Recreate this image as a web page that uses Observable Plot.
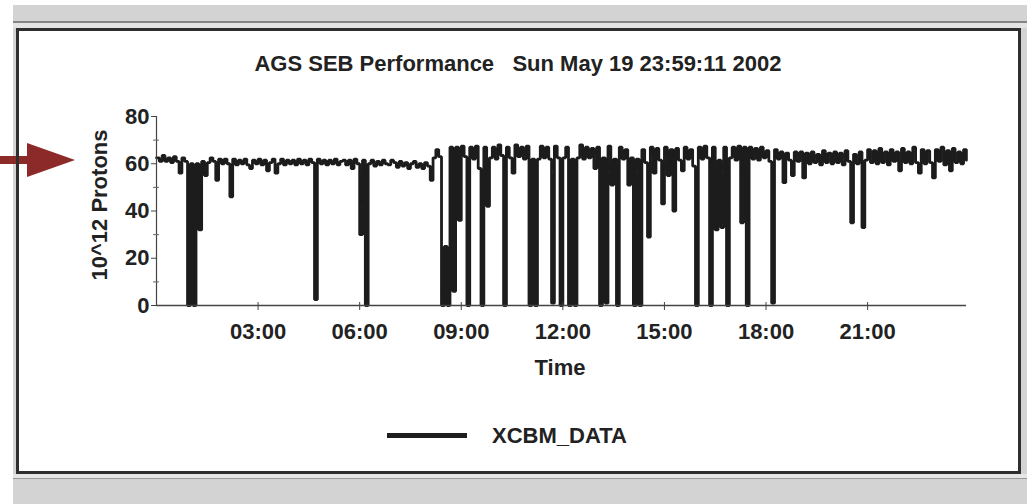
<!DOCTYPE html>
<html>
<head>
<meta charset="utf-8">
<script src="https://cdn.jsdelivr.net/npm/d3@7"></script>
<script src="https://cdn.jsdelivr.net/npm/@observablehq/plot@0.6"></script>
<style>
  html, body { margin: 0; padding: 0; background: #ffffff; width: 1027px; height: 504px; overflow: hidden;
    font-family: "Liberation Sans", Arial, Helvetica, sans-serif; }
  .abs { position: absolute; }
  #gray { left: 13px; top: 5px; width: 1014px; height: 499px; background: #d3d3d3; }
  #topline { left: 13px; top: 21px; width: 1014px; height: 2px; background: #858585; }
  #topgap { left: 13px; top: 23px; width: 1014px; height: 5px; background: #e4e4e4; }
  #botgap { left: 13px; top: 474px; width: 1014px; height: 4px; background: #e6e6e6; }
  #botline { left: 13px; top: 478px; width: 1014px; height: 1px; background: #9a9a9a; }
  #panel { left: 16px; top: 28px; width: 1005px; height: 446px; background: #ffffff; }
  #border { left: 16px; top: 28px; width: 999px; height: 440px; border: 3px solid #2e2e2e; }
  .txt { font-weight: bold; font-size: 22px; line-height: 22px; color: #222; white-space: pre; }
  #title { left: 0; top: 53px; width: 1036px; text-align: center; }
  #xlabel { left: 0; top: 357px; width: 1120px; text-align: center; }
  #ylabel { left: -50px; top: 194px; width: 300px; height: 22px; text-align: center; transform: rotate(-90deg); }
  #legtext { left: 492px; top: 425px; }
  #legline { left: 387px; top: 433px; width: 80px; height: 5px; background: #1e1e1e; }
  #chart { left: 0; top: 100px; }
</style>
</head>
<body>
<div id="gray" class="abs"></div>
<div id="topline" class="abs"></div>
<div id="topgap" class="abs"></div>
<div id="botgap" class="abs"></div>
<div id="botline" class="abs"></div>
<div id="panel" class="abs"></div>
<svg class="abs" style="left:0;top:140px" width="80" height="40">
  <polygon points="0,16 27,16 27,3 75,20 27,37 27,24 0,24" fill="#8c2a2a"></polygon>
</svg>
<div id="border" class="abs"></div>
<div id="chart" class="abs"></div>
<div id="title" class="abs txt">AGS SEB Performance   Sun May 19 23:59:11 2002</div>
<div id="xlabel" class="abs txt">Time</div>
<div id="ylabel" class="abs txt">10^12 Protons</div>
<div id="legline" class="abs"></div>
<div id="legtext" class="abs txt">XCBM_DATA</div>
<script>
// ---- data ----
const seriesName = "XCBM_DATA";
const sampleMinutes = 5;           // one reading every 5 minutes, starting 00:00
const timeTicks = [3, 6, 9, 12, 15, 18, 21];   // hours
const yTicks = [0, 20, 40, 60, 80];
const yMinorTicks = [10, 30, 50, 70];
// 10^12 protons, 12 readings per hour (rows = hours 00..23)
const protons = [
  62.5, 61, 63.5, 61, 62.5, 60.5, 63, 61, 56, 62.5, 61, 0,
  60, 0, 60, 32, 61, 55, 60.5, 62.5, 61, 53, 62, 60,
  62, 60, 46, 62, 59.5, 61.5, 60, 62, 59.5, 58, 61.5, 60,
  62, 59.5, 61.5, 57, 60.5, 62, 56, 60, 62, 59.5, 61.5, 60,
  61.5, 59.5, 62, 60, 61.5, 59.5, 62, 60.5, 2.5, 62, 60, 61.5,
  59.5, 61.5, 60, 62, 59.5, 61, 61.5, 59.5, 61.5, 58, 62, 60,
  30, 61.5, 0, 60, 61.5, 59, 61, 59.5, 61.5, 60, 59.5, 61.5,
  60.5, 58.5, 61, 59, 60.5, 58, 60, 61, 58.5, 60, 58, 60.5,
  59, 53, 62.5, 66, 63, 0, 25, 0, 67, 6, 67, 36,
  67.5, 63, 0, 67, 62, 67.5, 58, 0, 67, 42, 62.5, 67,
  62, 68, 63.5, 0, 67, 62.5, 56, 68, 63, 67, 62, 67.5,
  0, 62, 0, 62, 67.5, 62.5, 67, 62, 1, 67.5, 62.5, 0,
  62.5, 67, 0, 62, 0, 62.5, 68, 62, 67, 62.5, 66.5, 58,
  67, 0, 62.5, 1, 67.5, 51, 62, 0, 67, 62, 66, 51,
  62.5, 0, 62, 0, 66, 60.5, 29, 67, 56, 66.5, 61.5, 43,
  67, 55, 66, 40, 66.5, 61.5, 57, 67, 62, 66, 59, 0,
  67, 62, 67.5, 62.5, 0, 67, 32, 61.5, 33, 67, 0, 62.5,
  67, 61.5, 67.5, 35, 67, 0, 67, 62, 66.5, 61.5, 67, 62.5,
  65.5, 61, 1, 66, 62, 65, 52, 64.5, 61.5, 55, 65, 61,
  65, 54, 64.5, 60, 65, 60.5, 64, 59.5, 65.5, 60.5, 64.5, 60,
  65, 60.5, 64.5, 59.5, 65.5, 61, 35, 64, 60, 65, 33, 61.5,
  66, 60.5, 65.5, 60, 66.5, 60.5, 65, 59.5, 66, 61, 65, 57,
  66.5, 60.5, 65, 60, 67, 60.5, 56, 66, 60, 65.5, 60.5, 54,
  66, 61, 67, 59.5, 65.5, 57, 66.5, 60.5, 65, 60, 66, 61.5
];
const xDomain = [0, 23.92];   // hours shown on the time axis
const yDomain = [0, 80];

// ---- table for the library ----
const table = protons.map((v, i) => ({t: (i * sampleMinutes) / 60, v, series: seriesName}));
const fmtTime = h => String(h).padStart(2, "0") + ":00";

const chart = Plot.plot({
  width: 1027,
  height: 260,
  marginLeft: 156,
  marginRight: 61,
  marginTop: 16,
  marginBottom: 55,
  style: {background: "transparent", color: "#222", fontFamily: "'Liberation Sans', Arial, sans-serif",
          fontSize: "22px", fontWeight: "bold", overflow: "visible"},
  x: {domain: xDomain},
  y: {domain: yDomain},
  marks: [
    Plot.line(table, {x: "t", y: "v", curve: "step-after", stroke: "#1c1c1c", strokeWidth: 2.8, strokeLinejoin: "miter"}),
    Plot.ruleY([0], {stroke: "#444", strokeWidth: 1.5}),
    Plot.ruleX([0], {stroke: "#444", strokeWidth: 1.2}),
    Plot.axisY({ticks: yTicks, tickSize: 5, tickPadding: 2, tickFormat: d => String(d), label: null, stroke: "#444"}),
    Plot.axisY({ticks: yMinorTicks, tickSize: 6, dx: 3, fill: "none", label: null, stroke: "#666"}),
    Plot.axisX({ticks: timeTicks, tickSize: 8, dy: -3, fill: "none", label: null, stroke: "#444"}),
    Plot.axisX({ticks: timeTicks, tickSize: 0, tickPadding: 18, tickFormat: fmtTime, label: null})
  ]
});
document.getElementById("chart").appendChild(chart);
</script>
</body>
</html>
